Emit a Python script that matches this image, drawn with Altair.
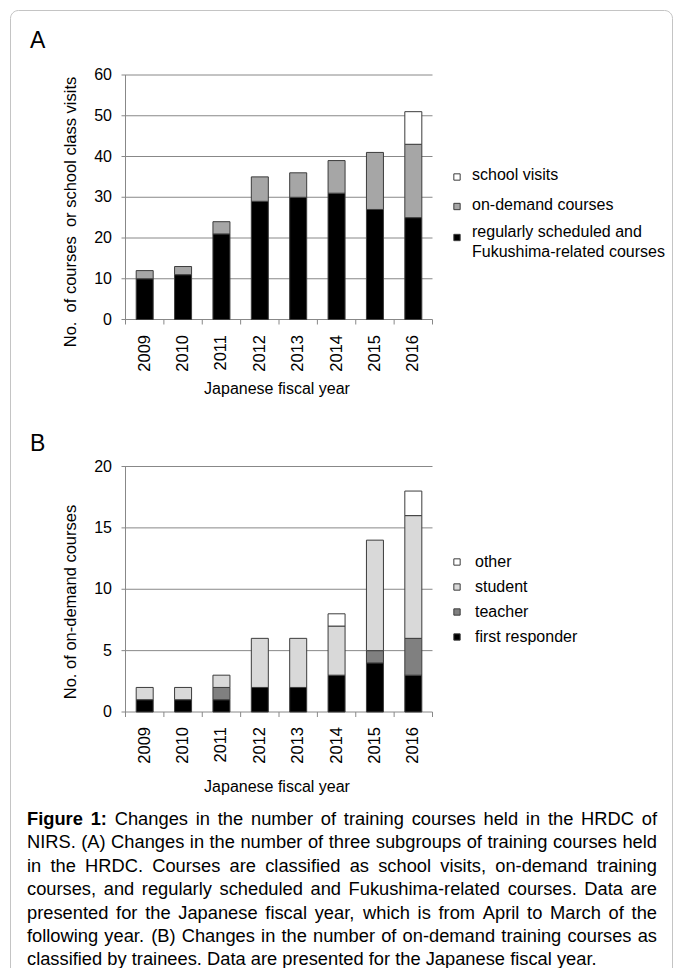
import altair as alt
import pandas as pd

# ---------------- data ----------------
years = [2009, 2010, 2011, 2012, 2013, 2014, 2015, 2016]

# Panel A (stack order bottom -> top)
regular = [10, 11, 21, 29, 30, 31, 27, 25]
on_demand = [2, 2, 3, 6, 6, 8, 14, 18]
school_visits = [0, 0, 0, 0, 0, 0, 0, 8]

# Panel B (stack order bottom -> top)
first_responder = [1, 1, 1, 2, 2, 3, 4, 3]
teacher = [0, 0, 1, 0, 0, 0, 1, 3]
student = [1, 1, 1, 4, 4, 4, 9, 10]
other = [0, 0, 0, 0, 0, 1, 0, 2]

ticks_a = [0, 10, 20, 30, 40, 50, 60]
ticks_b = [0, 5, 10, 15, 20]

names_a = ["regularly scheduled and Fukushima-related courses", "on-demand courses", "school visits"]
colors_a = ["#000000", "#a6a6a6", "#ffffff"]
names_b = ["first responder", "teacher", "student", "other"]
colors_b = ["#000000", "#808080", "#d9d9d9", "#ffffff"]

legend_a = [["school visits"], ["on-demand courses"],
            ["regularly scheduled and", "Fukushima-related courses"]]
legend_a_colors = ["#ffffff", "#a6a6a6", "#000000"]
legend_b = [["other"], ["student"], ["teacher"], ["first responder"]]
legend_b_colors = ["#ffffff", "#d9d9d9", "#808080", "#000000"]

ytitle_a = "No.\u00a0 of courses \u00a0or school class visits"
ytitle_b = "No. of on-demand courses"
xtitle = "Japanese fiscal year"

caption_lines = [
    "Figure 1: Changes in the number of training courses held in the HRDC of",
    "NIRS. (A) Changes in the number of three subgroups of training courses held",
    "in the HRDC. Courses are classified as school visits, on-demand training",
    "courses, and regularly scheduled and Fukushima-related courses. Data are",
    "presented for the Japanese fiscal year, which is from April to March of the",
    "following year. (B) Changes in the number of on-demand training courses as",
    "classified by trainees. Data are presented for the Japanese fiscal year.",
]

# ---------------- styling / layout ----------------
FONT = "Liberation Sans"
GRID = "#888888"
BAR_STROKE = "#3c3c3c"
XL, XR = 117.5, 424.5          # plot-area x of the axis frame
BAR_W = 17

A = dict(y0=311.5, ytop=67.0, ymax=60, ticks=ticks_a, letter="A", letter_y=40,
         ytitle=ytitle_a, ytitle_y=204, year_top=327, xtitle_y=381,
         legend=legend_a, legend_colors=legend_a_colors,
         leg_text_x=464, leg_base=[171.5, 201.5, 229], leg_sq=[169, 198.5, 229.5])
B = dict(y0=704.0, ytop=458.5, ymax=20, ticks=ticks_b, letter="B", letter_y=443,
         ytitle=ytitle_b, ytitle_y=594, year_top=719, xtitle_y=779,
         legend=legend_b, legend_colors=legend_b_colors,
         leg_text_x=467, leg_base=[559, 584, 609, 634], leg_sq=[554, 579, 604, 629])


def long_df(series, names):
    rows = []
    for k, (name, vals) in enumerate(zip(names, series)):
        for yr, v in zip(years, vals):
            if v > 0:
                rows.append({"year": yr, "series": name, "value": v, "order": k})
    return pd.DataFrame(rows)


def panel(df, names, colors, P):
    xs = alt.Scale(domain=[years[0] - 0.5, years[-1] + 0.5], range=[XL, XR],
                   nice=False, zero=False, padding=0)
    ys = alt.Scale(domain=[0, P["ymax"]], range=[P["y0"], P["ytop"]], nice=False, zero=False)
    tdf = pd.DataFrame({"t": P["ticks"]})

    grid = alt.Chart(tdf).mark_rule(color=GRID, strokeWidth=1).encode(
        y=alt.Y("t:Q", scale=ys, axis=None), x=alt.value(XL - 4), x2=alt.value(XR))
    yaxis = alt.Chart(tdf).mark_rule(color=GRID, strokeWidth=1).encode(
        x=alt.value(XL), y=alt.value(P["ytop"]), y2=alt.value(P["y0"]))
    ylabels = alt.Chart(tdf).mark_text(align="right", baseline="middle", font=FONT,
                                       fontSize=16, color="#000").encode(
        y=alt.Y("t:Q", scale=ys, axis=None), x=alt.value(104), text="t:Q")
    bdf = pd.DataFrame({"b": [y - 0.5 for y in years] + [years[-1] + 0.5]})
    xticks = alt.Chart(bdf).mark_rule(color=GRID, strokeWidth=1).encode(
        x=alt.X("b:Q", scale=xs, axis=None), y=alt.value(P["y0"]), y2=alt.value(P["y0"] + 5))
    bars = alt.Chart(df).mark_bar(width=BAR_W, stroke=BAR_STROKE, strokeWidth=1).encode(
        x=alt.X("year:Q", scale=xs, axis=None),
        y=alt.Y("value:Q", stack="zero", scale=ys, axis=None),
        color=alt.Color("series:N", scale=alt.Scale(domain=names, range=colors), legend=None),
        order=alt.Order("order:Q"))
    ydf = pd.DataFrame({"year": years, "label": [str(y) for y in years]})
    xlabels = alt.Chart(ydf).mark_text(angle=270, align="right", baseline="middle",
                                       font=FONT, fontSize=16.5, color="#000").encode(
        x=alt.X("year:Q", scale=xs, axis=None), y=alt.value(P["year_top"]), text="label:N")
    one = pd.DataFrame({"k": [0]})
    xt = alt.Chart(one).mark_text(align="center", baseline="middle", font=FONT,
                                  fontSize=16, color="#000", text=xtitle).encode(
        x=alt.value((XL + XR) / 2 - 2), y=alt.value(P["xtitle_y"]))
    yt = alt.Chart(one).mark_text(align="center", baseline="middle", font=FONT, angle=270,
                                  fontSize=16.5, color="#000", text=P["ytitle"]).encode(
        x=alt.value(63), y=alt.value(P["ytitle_y"]))
    letter = alt.Chart(one).mark_text(align="left", baseline="alphabetic", font=FONT,
                                      fontSize=23, color="#000", text=P["letter"]).encode(
        x=alt.value(22), y=alt.value(P["letter_y"]))

    layers = [grid, yaxis, xticks, bars, ylabels, xlabels, xt, yt, letter]
    for lab, col, base, sq in zip(P["legend"], P["legend_colors"], P["leg_base"], P["leg_sq"]):
        layers.append(alt.Chart(one).mark_square(size=40, fill=col, stroke=BAR_STROKE,
                                                 strokeWidth=1, opacity=1).encode(
            x=alt.value(449), y=alt.value(sq)))
        for j, line in enumerate(lab):
            layers.append(alt.Chart(one).mark_text(align="left", baseline="alphabetic",
                                                   font=FONT, fontSize=16, color="#000",
                                                   text=line).encode(
                x=alt.value(P["leg_text_x"]), y=alt.value(base + 20 * j)))
    return alt.layer(*layers)


panel_a = panel(long_df([regular, on_demand, school_visits], names_a), names_a, colors_a, A)
panel_b = panel(long_df([first_responder, teacher, student, other], names_b), names_b, colors_b, B)

# ---------------- caption (justified via Arial / Liberation Sans metrics) ----------------
REG_W = {' ': 278, '(': 333, ')': 333, ',': 278, '-': 333, '.': 278, ':': 278,
         '0': 556, '1': 556, '2': 556, '3': 556, '4': 556, '5': 556, '6': 556, '7': 556,
         '8': 556, '9': 556,
         'A': 667, 'B': 667, 'C': 722, 'D': 722, 'E': 667, 'F': 611, 'G': 778, 'H': 722,
         'I': 278, 'J': 500, 'K': 667, 'L': 556, 'M': 833, 'N': 722, 'O': 778, 'P': 667,
         'Q': 778, 'R': 722, 'S': 667, 'T': 611, 'U': 722, 'V': 667, 'W': 944, 'X': 667,
         'Y': 667, 'Z': 611,
         'a': 556, 'b': 556, 'c': 500, 'd': 556, 'e': 556, 'f': 278, 'g': 556, 'h': 556,
         'i': 222, 'j': 222, 'k': 500, 'l': 222, 'm': 833, 'n': 556, 'o': 556, 'p': 556,
         'q': 556, 'r': 333, 's': 500, 't': 278, 'u': 556, 'v': 500, 'w': 722, 'x': 500,
         'y': 500, 'z': 500}
BOLD_W = {' ': 278, 'F': 611, 'i': 278, 'g': 611, 'u': 611, 'r': 389, 'e': 556,
          '1': 556, ':': 333}
CAP_SIZE = 18.3
CAP_X = 19.0
CAP_W = 630.0
CAP_Y0 = 817.0
CAP_DY = 23.4


def tw(s, bold=False):
    table = BOLD_W if bold else REG_W
    return sum(table.get(ch, 556) for ch in s) * CAP_SIZE / 1000.0


rows = []
for i, line in enumerate(caption_lines):
    words = line.split(" ")
    flags = [i == 0 and j < 2 for j in range(len(words))]
    widths = [tw(w, b) for w, b in zip(words, flags)]
    if i < len(caption_lines) - 1:
        gap = (CAP_W - sum(widths)) / (len(words) - 1)
    else:
        gap = tw(" ")
    x = CAP_X
    for w, b, wd in zip(words, flags, widths):
        rows.append({"word": w, "x": x, "y": CAP_Y0 + i * CAP_DY, "bold": b})
        x += wd + gap
cap_df = pd.DataFrame(rows)

cap_reg = alt.Chart(cap_df[~cap_df["bold"]]).mark_text(
    align="left", baseline="alphabetic", font=FONT, fontSize=CAP_SIZE, color="#000").encode(
    x=alt.X("x:Q", scale=None, axis=None), y=alt.Y("y:Q", scale=None, axis=None), text="word:N")
cap_bold = alt.Chart(cap_df[cap_df["bold"]]).mark_text(
    align="left", baseline="alphabetic", font=FONT, fontSize=CAP_SIZE, fontWeight="bold",
    color="#000").encode(
    x=alt.X("x:Q", scale=None, axis=None), y=alt.Y("y:Q", scale=None, axis=None), text="word:N")

border = alt.Chart(pd.DataFrame({"k": [0]})).mark_rect(
    fillOpacity=0, stroke="#c4c4c4", strokeWidth=1, cornerRadius=8).encode(
    x=alt.value(2.5), x2=alt.value(664.5), y=alt.value(2.5), y2=alt.value(1000))

chart = alt.layer(border, panel_a, panel_b, cap_reg, cap_bold).resolve_scale(
    x="independent", y="independent", color="independent"
).properties(
    width=667, height=960, padding=0, autosize=alt.AutoSizeParams(type="none")
).configure_view(stroke=None)

chart.save("out.html", embed_options={"renderer": "svg", "actions": False})
